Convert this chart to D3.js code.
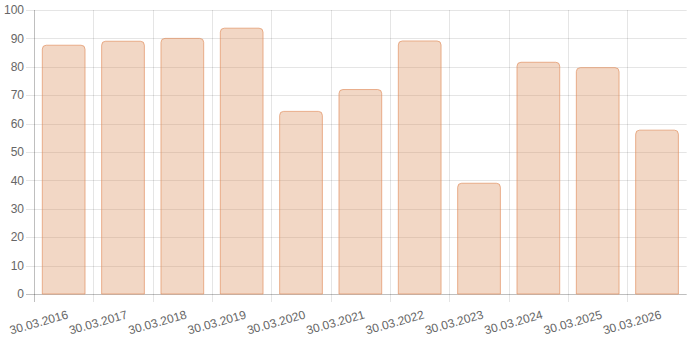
<!DOCTYPE html>
<html>
<head>
<meta charset="utf-8">
<script src="https://cdn.jsdelivr.net/npm/d3@7"></script>
<style>
  body { margin: 0; background: #fff; }
  text { font-family: "Liberation Sans", Arial, sans-serif; font-size: 12px; fill: #666; }
</style>
</head>
<body>
<div id="chart"></div>
<script>
// data
const dates = ["30.03.2016", "30.03.2017", "30.03.2018", "30.03.2019", "30.03.2020", "30.03.2021",
               "30.03.2022", "30.03.2023", "30.03.2024", "30.03.2025", "30.03.2026"];
const values = [87.6, 89.0, 90.0, 93.6, 64.3, 72.0, 89.1, 39.0, 81.6, 79.7, 57.7];
const yTicks = [0, 10, 20, 30, 40, 50, 60, 70, 80, 90, 100];

const width = 687, height = 343;
const plotLeft = 34, plotRight = 686.7, plotTop = 10, plotBottom = 294;

const svg = d3.select('#chart').append('svg')
  .attr('width', width).attr('height', height);

const x = d3.scaleBand().domain(dates).range([plotLeft, plotRight]).paddingInner(0).paddingOuter(0);
const y = d3.scaleLinear().domain([0, 100]).range([plotBottom, plotTop]);

// horizontal grid + y ticks
const gy = svg.append('g');
gy.selectAll('line').data(yTicks).enter().append('line')
  .attr('x1', plotLeft - 8).attr('x2', plotRight)
  .attr('y1', d => Math.round(y(d)) + 0.5).attr('y2', d => Math.round(y(d)) + 0.5)
  .attr('stroke', d => d === 0 ? 'rgba(0,0,0,0.25)' : 'rgba(0,0,0,0.1)');
gy.selectAll('text').data(yTicks).enter().append('text')
  .attr('x', plotLeft - 10).attr('y', d => y(d))
  .attr('dy', '0.35em').attr('text-anchor', 'end')
  .text(d => d);

// vertical grid between categories
const bounds = dates.map(d => x(d));
const gx = svg.append('g');
gx.selectAll('line').data(bounds).enter().append('line')
  .attr('x1', d => Math.round(d) + 0.5).attr('x2', d => Math.round(d) + 0.5)
  .attr('y1', plotTop).attr('y2', plotBottom + 8)
  .attr('stroke', (d, i) => i === 0 ? 'rgba(0,0,0,0.25)' : 'rgba(0,0,0,0.1)');

// x labels, rotated
gx.selectAll('text').data(dates).enter().append('text')
  .attr('text-anchor', 'end')
  .attr('dy', '0.35em')
  .attr('transform', d => `translate(${x(d) + x.bandwidth() / 2 + 4},${plotBottom + 20}) rotate(-16)`)
  .text(d => d);

// bars with rounded top corners
const bw = x.bandwidth() * 0.72;
const r = 4;
function barPath(x0, y0, w, h) {
  const rr = Math.min(r, h);
  return `M${x0},${y0 + h}V${y0 + rr}Q${x0},${y0} ${x0 + rr},${y0}H${x0 + w - rr}Q${x0 + w},${y0} ${x0 + w},${y0 + rr}V${y0 + h}Z`;
}
svg.append('g').selectAll('path').data(values).enter().append('path')
  .attr('d', (d, i) => {
    const cx = x(dates[i]) + x.bandwidth() / 2;
    return barPath(cx - bw / 2, y(d), bw, y(0) - y(d));
  })
  .attr('fill', 'rgba(218,140,89,0.35)')
  .attr('stroke', 'rgba(225,140,90,0.65)')
  .attr('stroke-width', 1);
</script>
</body>
</html>
